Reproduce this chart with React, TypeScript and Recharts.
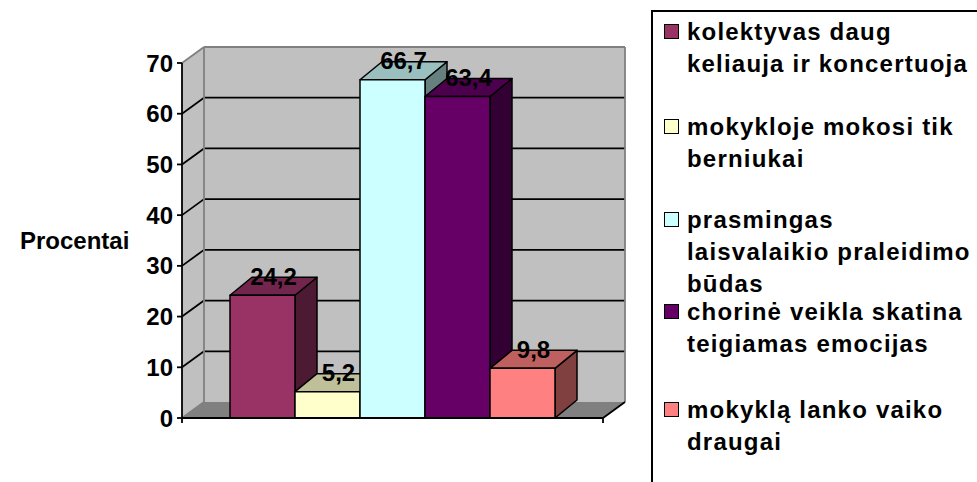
import { BarChart, Bar, XAxis, YAxis, ReferenceArea } from 'recharts';

const categories = [''];
const seriesNames = [
  'kolektyvas daug\nkeliauja ir koncertuoja',
  'mokykloje mokosi tik\nberniukai',
  'prasmingas\nlaisvalaikio praleidimo\nbūdas',
  'chorinė veikla skatina\nteigiamas emocijas',
  'mokyklą lanko vaiko\ndraugai',
];
const seriesValues = [24.2, 5.2, 66.7, 63.4, 9.8];
const yTicks = [0, 10, 20, 30, 40, 50, 60, 70];

const frontColors = ['#993366', '#ffffcc', '#ccffff', '#660066', '#ff8080'];
const topColors = ['#73264d', '#bfbf99', '#99bfbf', '#4d004d', '#bf6060'];
const sideColors = ['#4d1a33', '#808066', '#668080', '#330033', '#804040'];

const FONT = '"Liberation Sans", Arial, sans-serif';
const WALL_DX = 22;
const WALL_DY = -16;
const BAR_DX = 22;
const BAR_DY = -18;
const legendBaselines = [38, 133, 226, 318, 416];

const chartData = categories.map((name) => {
  const row: Record<string, string | number> = { name };
  seriesValues.forEach((v, i) => {
    row[`s${i}`] = v;
  });
  return row;
});

const fmt = (v: number) => v.toFixed(1).replace('.', ',');

function Walls(props: any) {
  const { x, y, width, height } = props;
  const bottom = y + height;
  const right = x + width;
  const max = yTicks[yTicks.length - 1];
  return (
    <g>
      <polygon
        points={`${x},${y} ${x + WALL_DX},${y + WALL_DY} ${x + WALL_DX},${bottom + WALL_DY} ${x},${bottom}`}
        fill="#c0c0c0"
      />
      <rect x={x + WALL_DX} y={y + WALL_DY} width={width} height={height} fill="#c0c0c0" />
      <polygon
        points={`${x},${bottom} ${x + WALL_DX},${bottom + WALL_DY} ${right + WALL_DX},${bottom + WALL_DY} ${right},${bottom}`}
        fill="#808080"
      />
      {yTicks.map((t) => {
        const yy = y + height * (1 - t / max);
        const edge = t === 0 || t === max;
        const stroke = edge ? '#808080' : '#000';
        return (
          <g key={t}>
            <line x1={x} y1={yy} x2={x + WALL_DX} y2={yy + WALL_DY} stroke={stroke} strokeWidth={1.8} />
            {t !== 0 && (
              <line x1={x + WALL_DX} y1={yy + WALL_DY} x2={right + WALL_DX} y2={yy + WALL_DY} stroke={stroke} strokeWidth={1.8} />
            )}
          </g>
        );
      })}
      <line x1={x + WALL_DX} y1={y + WALL_DY} x2={x + WALL_DX} y2={bottom + WALL_DY} stroke="#808080" strokeWidth={1.8} />
      <line x1={right + WALL_DX} y1={y + WALL_DY} x2={right + WALL_DX} y2={bottom + WALL_DY} stroke="#808080" strokeWidth={1.8} />
      <line x1={right} y1={bottom} x2={right + WALL_DX} y2={bottom + WALL_DY} stroke="#000" strokeWidth={1.8} />
      <line x1={x} y1={bottom} x2={x} y2={bottom + 5} stroke="#000" strokeWidth={1.8} />
      <line x1={right} y1={bottom} x2={right} y2={bottom + 5} stroke="#000" strokeWidth={1.8} />
    </g>
  );
}

const makeBarShape = (i: number) => (props: any) => {
  const { x, y, width: w, height: h } = props;
  return (
    <g stroke="#000" strokeWidth={1.5} strokeLinejoin="round">
      <polygon
        points={`${x + w},${y} ${x + w + BAR_DX},${y + BAR_DY} ${x + w + BAR_DX},${y + h + BAR_DY} ${x + w},${y + h}`}
        fill={sideColors[i]}
      />
      <polygon
        points={`${x},${y} ${x + BAR_DX},${y + BAR_DY} ${x + w + BAR_DX},${y + BAR_DY} ${x + w},${y}`}
        fill={topColors[i]}
      />
      <rect x={x} y={y} width={w} height={h} fill={frontColors[i]} />
    </g>
  );
};

const renderValue = (props: any) => {
  const { x, y, width, value } = props;
  return (
    <text
      x={x + width / 2 + BAR_DX / 2}
      y={y + BAR_DY / 2 - 1.5}
      textAnchor="middle"
      fontFamily={FONT}
      fontWeight="bold"
      fontSize={24}
      fill="#000"
    >
      {fmt(Number(value))}
    </text>
  );
};

function LegendBox() {
  return (
    <div
      style={{
        position: 'absolute',
        left: 651,
        top: 10,
        width: 400,
        height: 520,
        border: '2px solid #000',
        boxSizing: 'border-box',
      }}
    >
      {seriesNames.map((name, i) => (
        <div key={i}>
          <div
            style={{
              position: 'absolute',
              left: 11,
              top: legendBaselines[i] - 16 - 10,
              width: 15,
              height: 15,
              boxSizing: 'border-box',
              border: '1.5px solid #000',
              background: frontColors[i],
            }}
          />
          <div
            style={{
              position: 'absolute',
              left: 34,
              top: legendBaselines[i] - 24.3 - 10,
              fontFamily: FONT,
              fontWeight: 'bold',
              fontSize: 24,
              lineHeight: '32px',
              letterSpacing: 1.2,
              whiteSpace: 'pre',
              color: '#000',
            }}
          >
            {name}
          </div>
        </div>
      ))}
    </div>
  );
}

export default function App() {
  return (
    <div style={{ position: 'absolute', left: 0, top: 0, width: 977, height: 482, overflow: 'hidden', background: '#fff' }}>
      <BarChart
        width={977}
        height={482}
        data={chartData}
        margin={{ top: 63, right: 374, bottom: 0, left: 20 }}
        barSize={65}
        barGap={0}
      >
        <ReferenceArea y1={0} y2={70} shape={<Walls />} ifOverflow="visible" />
        <XAxis
          dataKey="name"
          height={64}
          tick={false}
          tickLine={false}
          axisLine={{ stroke: '#000', strokeWidth: 1.8 }}
        />
        <YAxis
          domain={[0, 70]}
          ticks={yTicks}
          width={162}
          tickSize={5}
          tickMargin={4}
          axisLine={{ stroke: '#000', strokeWidth: 1.8 }}
          tickLine={{ stroke: '#000', strokeWidth: 1.8 }}
          tick={{ fontFamily: FONT, fontWeight: 'bold', fontSize: 24, fill: '#000' }}
          label={{
            value: 'Procentai',
            position: 'insideLeft',
            offset: 0,
            style: { fontFamily: FONT, fontWeight: 'bold', fontSize: 24, fill: '#000' },
          }}
        />
        {seriesValues.map((_, i) => (
          <Bar
            key={i}
            dataKey={`s${i}`}
            name={seriesNames[i]}
            fill={frontColors[i]}
            shape={makeBarShape(i)}
            label={renderValue}
            isAnimationActive={false}
          />
        ))}
      </BarChart>
      <LegendBox />
    </div>
  );
}
